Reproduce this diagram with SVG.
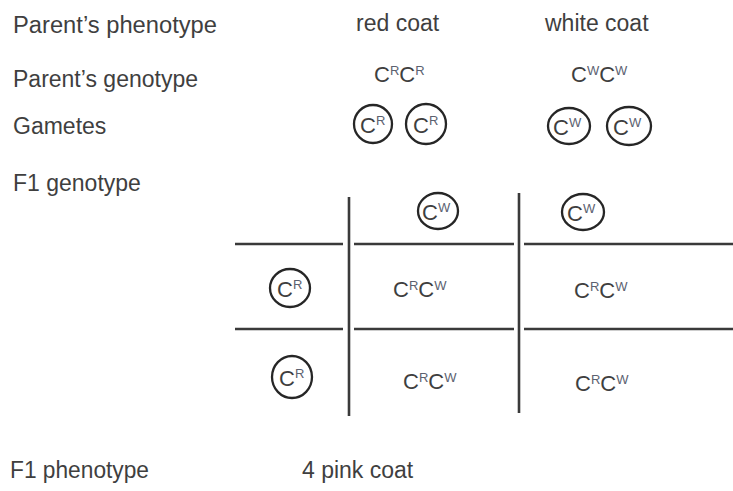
<svg xmlns="http://www.w3.org/2000/svg" width="733" height="491" viewBox="0 0 733 491">
<style>
text{font-family:"Liberation Sans",Arial,sans-serif;fill:#3f3f3f}
.lbl{font-size:23px}
.al{font-size:22px}
.sup{font-size:13px;fill:#5b6170}
.ring{fill:none;stroke:#262626;stroke-width:2.3}
.grid line{stroke:#3a3a3a;stroke-width:2.6}
</style>
<rect width="733" height="491" fill="#ffffff"/>
<g id="labels">
<text class="lbl" x="13" y="33" textLength="204" lengthAdjust="spacingAndGlyphs">Parent’s phenotype</text>
<text class="lbl" x="13" y="87">Parent’s genotype</text>
<text class="lbl" x="13" y="134">Gametes</text>
<text class="lbl" x="13" y="191">F1 genotype</text>
<text class="lbl" x="10" y="478" textLength="139" lengthAdjust="spacingAndGlyphs">F1 phenotype</text>
</g>
<g id="phenotypes">
<text class="lbl" x="356" y="31">red coat</text>
<text class="lbl" x="545" y="31">white coat</text>
<text class="lbl" x="302" y="478">4 pink coat</text>
</g>
<g id="genotypes">
<text class="al" x="374" y="82">C<tspan class="sup" dy="-7">R</tspan><tspan dy="7">C</tspan><tspan class="sup" dy="-7">R</tspan></text>
<text class="al" x="571" y="82">C<tspan class="sup" dy="-7">W</tspan><tspan dy="7">C</tspan><tspan class="sup" dy="-7">W</tspan></text>
</g>
<g id="gamete-R1"><circle class="ring" cx="373" cy="124" r="19"/><text class="al" x="360" y="133">C<tspan class="sup" dy="-8">R</tspan></text></g>
<g id="gamete-R2"><circle class="ring" cx="426" cy="124" r="20"/><text class="al" x="413" y="133">C<tspan class="sup" dy="-8">R</tspan></text></g>
<g id="gamete-W1"><ellipse class="ring" cx="569" cy="126" rx="21" ry="18"/><text class="al" x="553" y="135">C<tspan class="sup" dy="-8">W</tspan></text></g>
<g id="gamete-W2"><ellipse class="ring" cx="629" cy="126" rx="22" ry="19"/><text class="al" x="613" y="135">C<tspan class="sup" dy="-8">W</tspan></text></g>
<g id="grid" class="grid">
<line x1="349" y1="197" x2="349" y2="416"/>
<line x1="519" y1="193" x2="519" y2="413"/>
<line x1="235" y1="244" x2="343" y2="244"/>
<line x1="354" y1="244" x2="514" y2="244"/>
<line x1="524" y1="244" x2="733" y2="244"/>
<line x1="235" y1="329" x2="343" y2="329"/>
<line x1="354" y1="329" x2="514" y2="329"/>
<line x1="524" y1="329" x2="733" y2="329"/>
</g>
<g id="col-W1"><ellipse class="ring" cx="438" cy="211" rx="20" ry="18"/><text class="al" x="422" y="220">C<tspan class="sup" dy="-8">W</tspan></text></g>
<g id="col-W2"><ellipse class="ring" cx="583" cy="212" rx="21" ry="18"/><text class="al" x="567" y="221">C<tspan class="sup" dy="-8">W</tspan></text></g>
<g id="row-R1"><ellipse class="ring" cx="290" cy="288" rx="20" ry="19"/><text class="al" x="277" y="297">C<tspan class="sup" dy="-8">R</tspan></text></g>
<g id="row-R2"><ellipse class="ring" cx="292" cy="377" rx="20" ry="21"/><text class="al" x="279" y="386">C<tspan class="sup" dy="-8">R</tspan></text></g>
<g id="cells">
<text class="al" x="393" y="297">C<tspan class="sup" dy="-7">R</tspan><tspan dy="7">C</tspan><tspan class="sup" dy="-7">W</tspan></text>
<text class="al" x="574" y="298">C<tspan class="sup" dy="-7">R</tspan><tspan dy="7">C</tspan><tspan class="sup" dy="-7">W</tspan></text>
<text class="al" x="403" y="389">C<tspan class="sup" dy="-7">R</tspan><tspan dy="7">C</tspan><tspan class="sup" dy="-7">W</tspan></text>
<text class="al" x="575" y="391">C<tspan class="sup" dy="-7">R</tspan><tspan dy="7">C</tspan><tspan class="sup" dy="-7">W</tspan></text>
</g>
</svg>
